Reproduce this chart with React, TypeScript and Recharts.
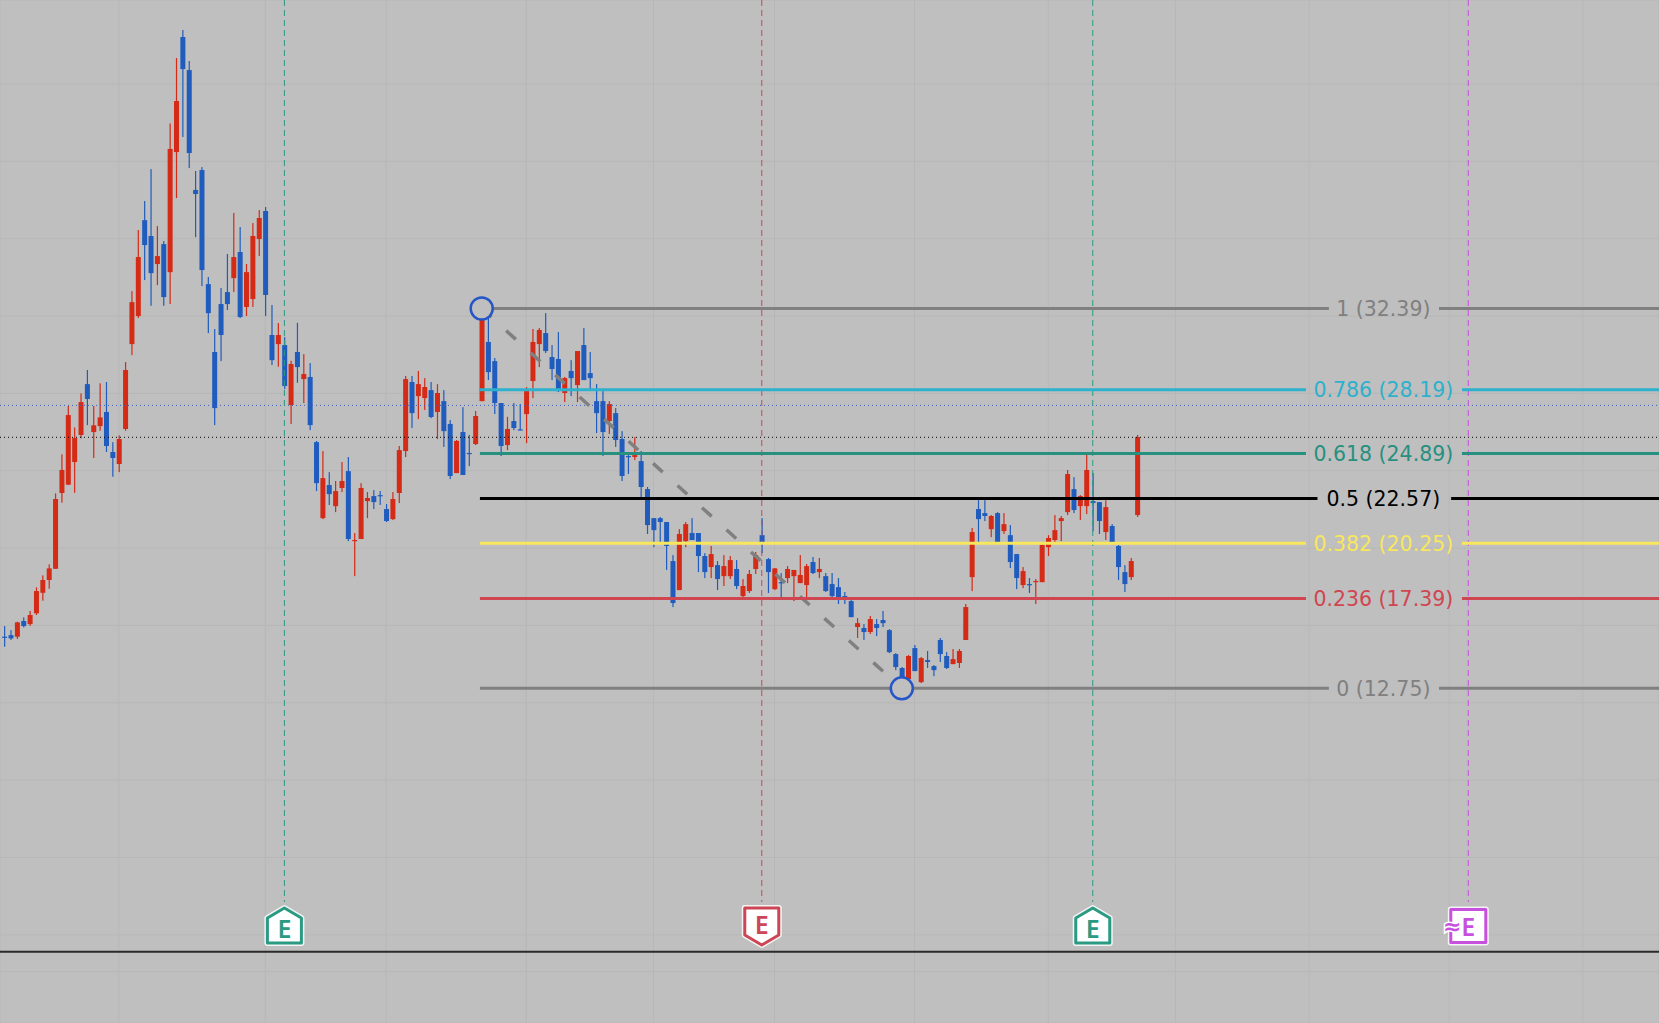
import {Bar, CartesianGrid, ComposedChart, ReferenceDot, ReferenceLine, XAxis, YAxis} from "recharts";

const candleOpen = [
    15.42, 15.50, 15.42, 16.23, 16.07, 16.63, 17.69, 18.35, 18.93, 22.85,
    23.28, 24.45, 25.85, 28.48, 26.00, 26.31, 27.04, 24.97, 24.35, 26.16,
    30.55, 32.00, 36.96, 36.14, 34.69, 35.72, 34.27, 40.48, 46.43, 44.72,
    38.52, 39.55, 33.65, 30.14, 32.62, 33.24, 33.96, 35.31, 32.47, 32.88,
    35.98, 37.43, 31.02, 30.55, 30.50, 27.40, 30.14, 28.74, 28.85, 25.48,
    21.55, 23.26, 22.17, 23.11, 23.98, 20.38, 20.47, 22.43, 22.69, 22.74,
    22.02, 21.50, 22.85, 25.02, 28.59, 27.86, 27.76, 28.17, 27.04, 27.60,
    26.42, 23.88, 26.00, 24.92, 25.38, 27.60, 30.66, 29.67, 27.50, 25.33,
    26.57, 26.14, 26.93, 28.64, 30.55, 31.12, 29.88, 29.78, 28.02, 29.16,
    28.43, 30.50, 29.05, 27.60, 27.60, 26.57, 26.98, 25.64, 24.76, 24.71,
    24.50, 23.05, 21.55, 21.55, 21.35, 19.33, 17.83, 20.36, 20.78, 20.78,
    19.59, 19.02, 19.12, 18.55, 18.55, 18.92, 17.52, 17.78, 18.92, 20.67,
    19.43, 17.88, 18.24, 18.45, 18.55, 18.19, 18.09, 19.28, 18.76, 18.55,
    18.14, 17.98, 17.52, 17.26, 15.92, 15.87, 15.66, 16.07, 16.28, 15.76,
    14.52, 13.80, 13.23, 14.83, 13.07, 14.21, 13.90, 15.25, 14.42, 14.00,
    14.06, 15.25, 18.50, 22.02, 21.81, 20.98, 21.81, 20.88, 20.67, 19.69,
    18.09, 18.14, 18.24, 18.24, 20.05, 20.42, 21.40, 21.86, 23.05, 22.17,
    22.17, 22.43, 22.38, 20.83, 21.14, 20.11, 18.76, 18.50, 21.71,
];
const candleHigh = [
    15.97, 15.76, 16.19, 16.42, 16.75, 17.97, 18.59, 19.16, 22.83, 24.85,
    27.35, 26.24, 28.00, 29.21, 27.35, 28.52, 28.59, 25.48, 25.83, 29.62,
    33.29, 36.45, 37.95, 39.60, 36.65, 35.88, 41.96, 45.34, 46.79, 45.19,
    39.50, 39.70, 34.02, 31.33, 33.45, 35.21, 37.33, 36.60, 34.69, 36.81,
    37.48, 37.64, 32.57, 31.64, 30.91, 29.69, 31.65, 30.03, 29.57, 25.54,
    25.02, 23.93, 23.47, 24.45, 24.71, 20.78, 23.36, 22.90, 23.00, 22.95,
    22.28, 22.90, 25.28, 28.90, 28.90, 29.16, 28.79, 28.59, 28.48, 28.17,
    26.62, 25.59, 27.29, 25.85, 27.09, 32.39, 31.96, 29.83, 27.50, 26.79,
    27.50, 27.45, 28.33, 31.33, 31.38, 32.15, 30.50, 31.17, 28.85, 29.72,
    30.19, 31.38, 30.14, 28.48, 28.12, 27.60, 27.24, 26.05, 24.92, 25.74,
    25.02, 23.16, 21.55, 21.61, 21.35, 19.64, 20.98, 21.35, 21.55, 20.78,
    19.74, 20.11, 19.33, 19.64, 19.59, 19.38, 18.40, 18.87, 19.80, 21.55,
    19.49, 18.97, 18.71, 19.07, 18.87, 19.64, 19.18, 19.54, 19.49, 18.71,
    18.71, 18.45, 17.73, 17.31, 16.38, 16.07, 16.49, 16.33, 16.75, 15.81,
    14.57, 13.85, 14.47, 14.99, 14.37, 14.68, 13.95, 15.35, 14.62, 14.78,
    14.78, 17.11, 21.04, 22.48, 22.48, 21.71, 21.86, 21.81, 21.19, 19.69,
    19.02, 18.45, 18.40, 20.31, 20.67, 21.71, 21.66, 24.04, 23.67, 22.74,
    24.92, 23.88, 22.38, 22.48, 21.24, 20.16, 19.12, 19.49, 25.85,
];
const candleLow = [
    14.90, 15.25, 15.30, 15.90, 15.98, 16.54, 17.28, 17.90, 18.93, 22.35,
    23.26, 22.86, 25.68, 26.36, 24.66, 26.07, 24.97, 23.69, 23.93, 26.07,
    29.98, 31.90, 33.86, 32.53, 33.60, 32.53, 32.62, 38.10, 41.26, 39.65,
    36.08, 33.55, 31.12, 26.36, 29.67, 32.31, 33.24, 31.90, 32.00, 32.47,
    35.10, 32.00, 29.47, 29.38, 28.22, 26.42, 28.55, 27.50, 26.10, 22.95,
    21.50, 22.23, 21.86, 22.90, 20.36, 18.55, 20.47, 21.55, 22.02, 22.23,
    21.35, 21.45, 22.33, 24.71, 26.21, 26.67, 27.14, 26.72, 25.64, 25.23,
    23.57, 23.88, 23.78, 24.24, 25.33, 27.60, 28.69, 26.93, 24.76, 25.07,
    26.10, 26.09, 25.43, 27.76, 29.36, 30.09, 28.69, 28.07, 27.55, 27.86,
    27.55, 28.69, 28.22, 25.95, 24.76, 25.90, 25.23, 23.47, 23.83, 24.55,
    22.64, 20.73, 20.05, 20.31, 18.87, 16.95, 17.83, 20.05, 20.42, 18.76,
    18.45, 18.45, 17.83, 18.04, 18.40, 17.88, 17.42, 17.68, 18.66, 19.74,
    17.68, 17.83, 17.47, 18.19, 17.26, 18.19, 17.47, 18.66, 18.45, 17.73,
    17.47, 17.11, 17.11, 16.43, 15.35, 15.25, 15.56, 15.45, 15.92, 14.57,
    13.69, 13.28, 13.23, 13.64, 13.02, 13.80, 13.38, 14.11, 13.75, 14.00,
    13.80, 15.25, 17.78, 20.31, 21.40, 20.57, 20.31, 20.73, 18.97, 17.88,
    17.93, 17.68, 17.11, 18.24, 19.59, 20.31, 20.36, 21.71, 21.81, 21.45,
    21.76, 20.88, 20.73, 20.42, 20.31, 18.35, 17.73, 18.35, 21.61,
];
const candleClose = [
    15.39, 15.33, 16.16, 15.97, 16.54, 17.78, 18.35, 18.95, 22.54, 24.04,
    26.88, 25.69, 27.55, 27.71, 26.35, 26.76, 25.28, 24.66, 25.64, 29.21,
    32.72, 35.05, 35.67, 34.22, 35.10, 32.98, 40.64, 43.12, 44.77, 40.43,
    38.31, 34.38, 32.15, 27.24, 31.02, 32.62, 35.05, 31.95, 34.27, 36.14,
    37.07, 33.09, 29.72, 31.02, 28.38, 29.52, 29.36, 29.00, 26.36, 23.36,
    23.62, 22.79, 22.95, 23.47, 20.47, 20.42, 23.11, 22.59, 22.38, 22.68,
    21.40, 22.54, 25.07, 28.74, 26.98, 28.48, 28.33, 26.78, 28.02, 26.05,
    23.73, 25.54, 23.78, 24.88, 26.83, 32.21, 29.10, 27.50, 25.28, 26.16,
    26.21, 26.10, 28.12, 30.66, 31.28, 30.19, 29.26, 28.12, 28.79, 28.79,
    30.19, 28.69, 28.79, 26.98, 26.00, 27.45, 25.59, 23.73, 24.72, 24.81,
    23.16, 21.19, 20.93, 21.35, 20.11, 17.16, 20.73, 21.24, 20.42, 19.59,
    18.76, 19.69, 18.40, 19.07, 19.38, 18.04, 18.04, 18.66, 19.64, 20.31,
    18.76, 18.95, 18.19, 18.92, 18.87, 18.61, 19.07, 18.71, 18.92, 17.78,
    17.52, 17.47, 17.47, 16.43, 16.12, 15.66, 16.33, 15.87, 16.12, 14.62,
    13.85, 13.28, 14.42, 13.64, 14.31, 14.11, 13.69, 14.52, 13.80, 14.26,
    14.68, 16.95, 20.83, 21.50, 21.66, 21.66, 20.31, 21.24, 19.28, 18.45,
    18.81, 18.09, 18.30, 20.16, 20.52, 20.93, 21.55, 23.83, 21.97, 22.69,
    24.04, 22.33, 21.40, 22.12, 20.31, 19.02, 18.14, 19.33, 25.74,
];

const fibRatios = ["1", "0.786", "0.618", "0.5", "0.382", "0.236", "0"];
const fibPrices = [32.39, 28.19, 24.89, 22.57, 20.25, 17.39, 12.75];
const fibColors = ["#808080", "#2db1cc", "#27907f", "#000000", "#f8e75c", "#cf4651", "#808080"];
const fibGapStart = [208.1, 204.5, 204.5, 206.3, 204.5, 204.5, 208.1];
const fibGapEnd = [225.4, 229, 229, 227.3, 229, 229, 225.4];
const fibStart = 75;
const fibEnd = 141;
const fibLineStart = 74.72;

const earningsBars = [44, 119, 171, 230];
const earningsColors = ["#2a9a82", "#cd4655", "#2a9a82", "#c750df"];
const earningsKinds = ["house", "shield", "house", "square"];
const earningsLabel = "E";

const gridX = [18, 41, 60, 82, 102, 121, 143, 164, 184, 205, 227, 248];
const gridY = [48, 44, 40, 36, 32, 28, 24, 20, 16, 12, 8, 4, 0, -1.9];

const lastClose = 25.73;
const prevClose = 27.38;
const paneLine = -0.87;

const candles = candleOpen.map((open, i) => ({
    bar: i,
    open,
    high: candleHigh[i],
    low: candleLow[i],
    close: candleClose[i],
    range: [candleLow[i], candleHigh[i]],
}));

const UP = "#d42a16";
const DOWN = "#1f5cbd";
const BG = "#bfbfbf";

function Candle(props: any) {
    const {x, y, width, height, payload} = props;
    const color = payload.close >= payload.open ? UP : DOWN;
    const top = Math.min(y, y + height);
    const k = Math.abs(height) / (payload.high - payload.low);
    const bodyTop = top + (payload.high - Math.max(payload.open, payload.close)) * k;
    const bodyH = Math.max(1.2, Math.abs(payload.open - payload.close) * k);
    const mid = x + width / 2;
    return (
        <g>
            <rect x={mid - 0.6} y={top} width={1.2} height={Math.abs(height)} fill={color} />
            <rect x={x} y={bodyTop} width={width} height={bodyH} fill={color} />
        </g>
    );
}

function Badge(props: any) {
    const {cx, cy, color, kind} = props;
    let path = "";
    let textY = cy + 1;
    if (kind === "house") {
        path = `M${cx} ${cy - 17}L${cx + 17} ${cy - 7}V${cy + 18}H${cx - 17}V${cy - 7}Z`;
        textY = cy + 3;
    } else if (kind === "shield") {
        path = `M${cx - 17} ${cy - 17}H${cx + 17}V${cy + 10}L${cx} ${cy + 20}L${cx - 17} ${cy + 10}Z`;
        textY = cy - 1;
    } else {
        path = `M${cx - 17.5} ${cy - 15.5}H${cx + 17.5}V${cy + 17.5}H${cx - 17.5}Z`;
    }
    return (
        <g>
            <path d={path} fill="#ffffff" stroke="#f4f4f4" strokeWidth={6} strokeLinejoin="round" />
            <path d={path} fill="#ffffff" stroke={color} strokeWidth={3} strokeLinejoin="round" />
            <text
                x={cx}
                y={textY}
                textAnchor="middle"
                dominantBaseline="central"
                fill={color}
                fontFamily="Noto Sans"
                fontWeight={600}
                fontSize={25}
            >
                {earningsLabel}
            </text>
            {kind === "square" && (
                <text
                    x={cx - 16}
                    y={cy + 1}
                    textAnchor="middle"
                    dominantBaseline="central"
                    fill={color}
                    stroke="#ffffff"
                    strokeWidth={3}
                    paintOrder="stroke"
                    fontFamily="DejaVu Sans"
                    fontWeight={700}
                    fontSize={22}
                >
                    ≈
                </text>
            )}
        </g>
    );
}

function App() {
    return (
        <div style={{position: "absolute", left: 0, top: 0, width: 1659, height: 1023, background: BG, overflow: "hidden"}}>
            <ComposedChart width={1659} height={1023} data={candles} margin={{top: 0, right: 0, bottom: 0, left: 0}}>
                <XAxis dataKey="bar" type="number" scale="linear" domain={[-0.68, 259.96]} ticks={gridX} allowDataOverflow hide />
                <YAxis type="number" domain={[-4.557, 48.343]} ticks={gridY} allowDataOverflow hide />
                <CartesianGrid stroke="#b7b7b7" strokeWidth={1} />

                <ReferenceLine y={prevClose} stroke="#3f5fc0" strokeWidth={1} strokeDasharray="1 3" />
                <ReferenceLine y={lastClose} stroke="#000000" strokeWidth={1} strokeDasharray="1 3" />
                <ReferenceLine y={paneLine} stroke="#2a2a2a" strokeWidth={2} />

                {earningsBars.map((bar, i) => (
                    <ReferenceLine
                        key={"ev" + bar}
                        segment={[{x: bar, y: 48.343}, {x: bar, y: 1.7}]}
                        stroke={earningsColors[i]}
                        strokeWidth={1}
                        strokeDasharray="6 4"
                    />
                ))}

                <Bar dataKey="range" barSize={5} shape={Candle} isAnimationActive={false} />

                <ReferenceLine
                    segment={[{x: fibStart, y: fibPrices[0]}, {x: fibEnd, y: fibPrices[6]}]}
                    stroke="#808080"
                    strokeWidth={3.5}
                    strokeDasharray="13 20"
                />
                {fibPrices.map((price, i) => (
                    <ReferenceLine
                        key={"a" + i}
                        segment={[{x: fibLineStart, y: price}, {x: fibGapStart[i], y: price}]}
                        stroke={fibColors[i]}
                        strokeWidth={3}
                    />
                ))}
                {fibPrices.map((price, i) => (
                    <ReferenceLine
                        key={"b" + i}
                        segment={[{x: fibGapEnd[i], y: price}, {x: 259.96, y: price}]}
                        stroke={fibColors[i]}
                        strokeWidth={3}
                    />
                ))}
                {fibPrices.map((price, i) => (
                    <ReferenceDot
                        key={"l" + i}
                        x={216.65}
                        y={price}
                        r={0}
                        fill="none"
                        stroke="none"
                        label={{
                            value: `${fibRatios[i]} (${price.toFixed(2)})`,
                            position: "center",
                            fill: fibColors[i],
                            fontSize: 20.5,
                            fontFamily: "DejaVu Sans",
                        }}
                    />
                ))}

                <ReferenceDot x={fibStart} y={fibPrices[0]} r={11} fill={BG} stroke="#2456c8" strokeWidth={2.5} />
                <ReferenceDot x={fibEnd} y={fibPrices[6]} r={11} fill={BG} stroke="#2456c8" strokeWidth={2.5} />

                {earningsBars.map((bar, i) => (
                    <ReferenceDot
                        key={"bd" + bar}
                        x={bar}
                        y={0.51}
                        shape={(p: any) => <Badge {...p} color={earningsColors[i]} kind={earningsKinds[i]} />}
                    />
                ))}
            </ComposedChart>
        </div>
    );
}

export default App;
